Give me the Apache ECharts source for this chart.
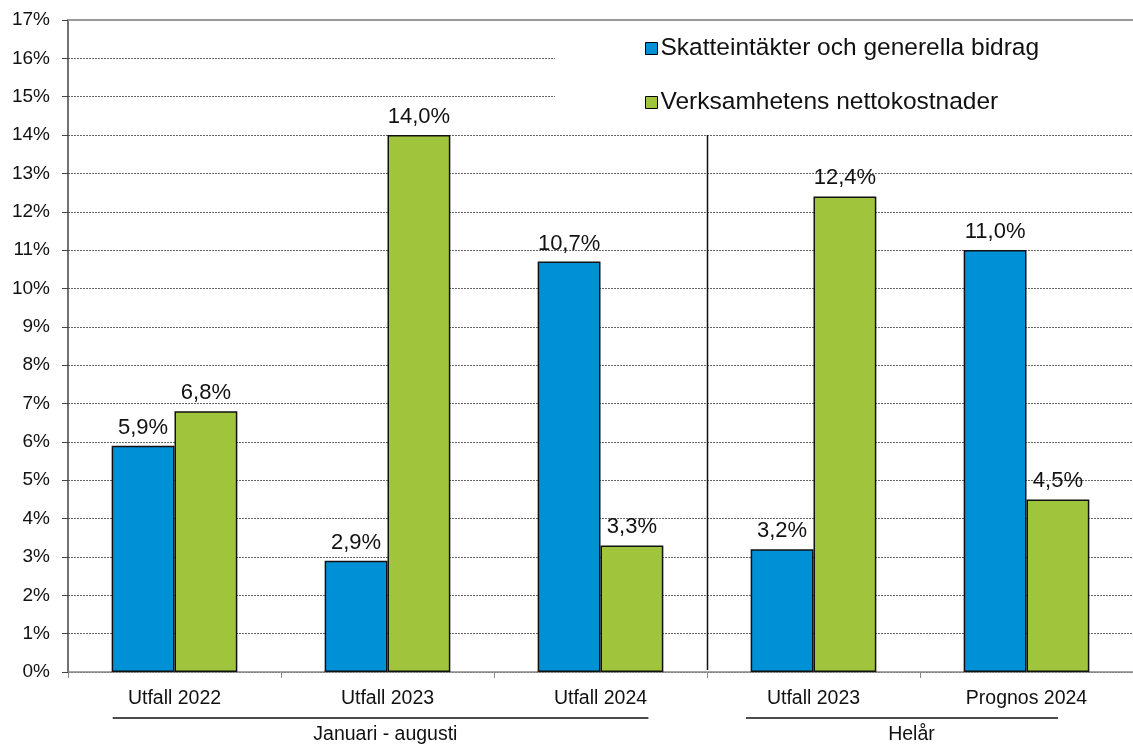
<!DOCTYPE html>
<html>
<head>
<meta charset="utf-8">
<script src="https://cdn.jsdelivr.net/npm/echarts@6/dist/echarts.min.js"></script>
<style>
  html, body { margin: 0; padding: 0; background: #fff; }
  #chart { width: 1133px; height: 745px; }
</style>
</head>
<body>
<div id="chart"></div>
<script>
// kategorier och värden (procent)
const categories = ['Utfall 2022', 'Utfall 2023', 'Utfall 2024', 'Utfall 2023', 'Prognos 2024']
const skatter = [5.9, 2.9, 10.7, 3.2, 11.0]
const netto = [6.8, 14.0, 3.3, 12.4, 4.5]
const seriesNames = ['Skatteintäkter och generella bidrag', 'Verksamhetens nettokostnader']
const groups = [
  { name: 'Januari - augusti', from: 0, to: 2 },
  { name: 'Helår', from: 3, to: 4 },
]

const font = 'Liberation Sans, Arial, sans-serif'
const chart = echarts.init(document.getElementById('chart'))

const barLabel = {
  show: true,
  position: 'top',
  distance: 7,
  color: '#111',
  fontSize: 22,
  fontFamily: font,
  formatter: p => p.value.toFixed(1).replace('.', ',') + '%',
}

chart.setOption({
  animation: false,
  textStyle: { fontFamily: font },
  grid: { left: 68, right: 0, top: 20, bottom: 73 },
  legend: {
    orient: 'vertical',
    left: 555,
    top: 22,
    padding: [14, 200, 14, 90],
    backgroundColor: '#fff',
    itemGap: 29,
    itemWidth: 12,
    itemHeight: 12,
    icon: 'rect',
    itemStyle: { borderColor: '#000', borderWidth: 1 },
    textStyle: { fontSize: 24.5, color: '#111', fontFamily: font, padding: [0, 0, 0, -2] },
    data: seriesNames,
  },
  xAxis: [
    {
      type: 'category',
      data: categories,
      axisLine: { lineStyle: { color: '#888', width: 1.5 } },
      axisTick: { show: true, length: 6, lineStyle: { color: '#888' } },
      axisLabel: { fontSize: 19.5, color: '#111', margin: 17, fontFamily: font },
    },
    {
      type: 'category',
      data: categories,
      position: 'top',
      axisLine: { show: true, lineStyle: { color: '#999', width: 2 } },
      axisTick: { show: false },
      axisLabel: { show: false },
    },
  ],
  yAxis: {
    type: 'value',
    min: 0,
    max: 17,
    interval: 1,
    axisLine: { show: true, lineStyle: { color: '#444', width: 1.5 } },
    axisTick: { show: true, length: 6, lineStyle: { color: '#444' } },
    axisLabel: { fontSize: 19, color: '#111', margin: 18, formatter: '{value}%', fontFamily: font },
    splitLine: { lineStyle: { color: '#666', type: [2, 1], width: 1 } },
  },
  series: [
    {
      name: seriesNames[0],
      type: 'bar',
      data: skatter,
      barGap: 0,
      barCategoryGap: '41%',
      itemStyle: { color: '#0090D5', borderColor: '#111', borderWidth: 1.5 },
      label: barLabel,
    },
    {
      name: seriesNames[1],
      type: 'bar',
      data: netto,
      itemStyle: { color: '#A0C43C', borderColor: '#111', borderWidth: 1.5 },
      label: barLabel,
    },
  ],
})

// skiljelinje och gruppetiketter under x-axeln
function drawGroups() {
  const cx = i => chart.convertToPixel({ xAxisIndex: 0 }, i)
  const py = v => chart.convertToPixel({ yAxisIndex: 0 }, v)
  const w = cx(1) - cx(0)
  const sepX = Math.round((cx(2) + cx(3)) / 2) + 0.5
  const elements = [
    {
      type: 'line',
      shape: { x1: sepX, y1: py(14), x2: sepX, y2: py(0) - 2 },
      style: { stroke: '#111', lineWidth: 1.5 },
    },
  ]
  const spans = [
    { x1: cx(0) - 0.29 * w, x2: cx(2) + 0.225 * w, tx: cx(1) - 0.01 * w },
    { x1: cx(3) - 0.317 * w, x2: cx(4) + 0.148 * w, tx: (cx(3) + cx(4)) / 2 - 0.04 * w },
  ]
  groups.forEach((g, k) => {
    const s = spans[k]
    elements.push({
      type: 'line',
      shape: { x1: s.x1, y1: 718, x2: s.x2, y2: 718 },
      style: { stroke: '#111', lineWidth: 1.5 },
    })
    elements.push({
      type: 'text',
      x: s.tx,
      y: 735,
      style: {
        text: g.name,
        fontSize: 19.5,
        fontFamily: font,
        fill: '#111',
        align: 'center',
        verticalAlign: 'middle',
      },
    })
  })
  chart.setOption({ graphic: elements })
}
drawGroups()
</script>
</body>
</html>
